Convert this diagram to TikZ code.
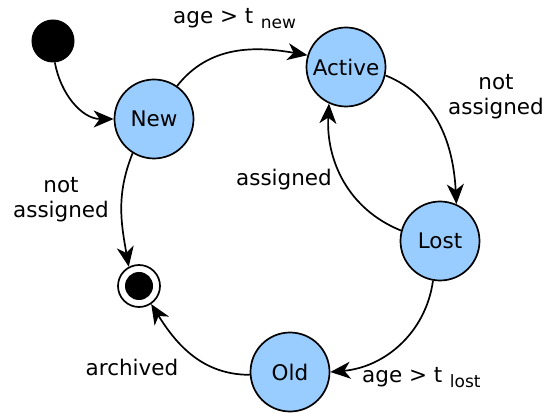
\documentclass[tikz,border=0pt]{standalone}
\usepackage{fontspec}
\setmainfont{DejaVu Sans}
\usetikzlibrary{arrows.meta}
\definecolor{stfill}{HTML}{99CCFF}
\tikzset{
  state/.style={circle,draw,line width=1.7pt,fill=stfill,minimum size=79pt,inner sep=0pt,font=\fontsize{21.5}{25}\selectfont},
  edge/.style={line width=1.7pt,-{Stealth[length=20pt,width=17pt,inset=6pt]}},
  lbl/.style={font=\fontsize{21.5}{25}\selectfont,align=center,inner sep=0pt},
}
\begin{document}
\begin{tikzpicture}[x=1pt,y=1pt]
\useasboundingbox (0,0) rectangle (551,412);
\node[circle,fill=black,draw,line width=1pt,minimum size=42pt,inner sep=0pt] (init) at (53,371) {};
\node[state] (new) at (154,293) {New};
\node[state] (active) at (346,345) {Active};
\node[state] (lost) at (440,171) {Lost};
\node[state] (old) at (290,40) {Old};
\node[circle,draw,line width=1.7pt,fill=white,minimum size=42pt,inner sep=0pt,
  path picture={\fill[black] (path picture bounding box.center) circle (14pt);}] (fin) at (139,126) {};

\draw[edge] (init.-85) to[out=-80,in=180] (new.180);
\draw[edge] (new.55) to[out=52,in=170] (active.163);
\draw[edge] (active.-12) to[out=-22,in=93] (lost.66);
\draw[edge] (lost.165) to[out=158,in=-93] (active.-115);
\draw[edge] (lost.-100) to[out=-98,in=5] (old.0);
\draw[edge] (old.184) to[out=180,in=-58] (fin.-56);
\draw[edge] (new.-122) to[out=-112,in=100] (fin.118);

\node[lbl,anchor=base west] (lnew) at (173,388) {age > t\hspace{0.35em}\raisebox{-5pt}{\fontsize{17}{19}\selectfont new}};
\node[lbl] (lna1) at (496,315) {not\\assigned};
\node[lbl] (lass) at (284,232) {assigned};
\node[lbl] (lna2) at (61,212) {not\\assigned};
\node[lbl] (larch) at (132,45) {archived};
\node[lbl,anchor=base west] (llost) at (362,29) {age > t\hspace{0.35em}\raisebox{-5pt}{\fontsize{17}{19}\selectfont lost}};
\end{tikzpicture}
\end{document}
